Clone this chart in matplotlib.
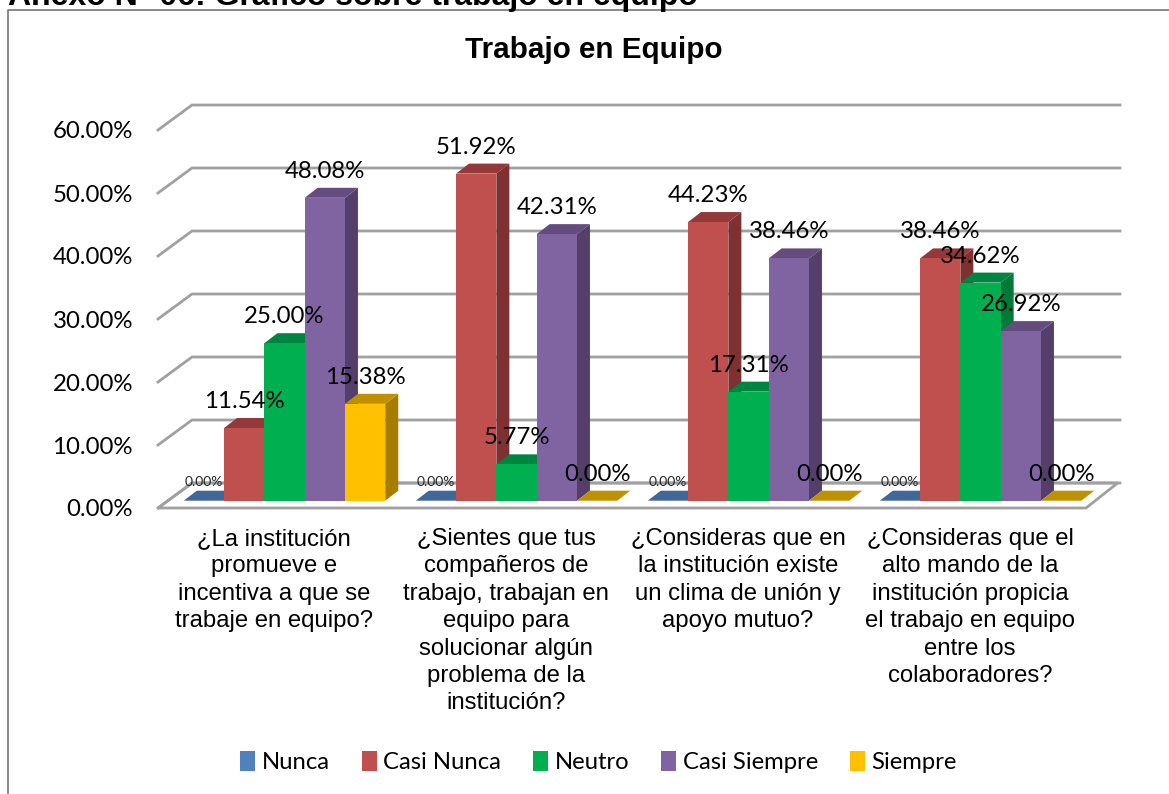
import matplotlib
matplotlib.use("Agg")
import matplotlib.pyplot as plt
from matplotlib.patches import Polygon, Patch

categories = [
    "¿La institución\npromueve e\nincentiva a que se\ntrabaje en equipo?",
    "¿Sientes que tus\ncompañeros de\ntrabajo, trabajan en\nequipo para\nsolucionar algún\nproblema de la\ninstitución?",
    "¿Consideras que en\nla institución existe\nun clima de unión y\napoyo mutuo?",
    "¿Consideras que el\nalto mando de la\ninstitución propicia\nel trabajo en equipo\nentre los\ncolaboradores?",
]
series_names = ["Nunca", "Casi Nunca", "Neutro", "Casi Siempre", "Siempre"]
nunca = [0.00, 0.00, 0.00, 0.00]
casi_nunca = [11.54, 51.92, 44.23, 38.46]
neutro = [25.00, 5.77, 17.31, 34.62]
casi_siempre = [48.08, 42.31, 38.46, 26.92]
siempre = [15.38, 0.00, 0.00, 0.00]
series = [nunca, casi_nunca, neutro, casi_siempre, siempre]
y_ticks = [0, 10, 20, 30, 40, 50, 60]

legend_colors = ["#4F81BD", "#C0504D", "#00B050", "#8064A2", "#FFC000"]
front_colors = ["#4F81BD", "#C0504D", "#00B050", "#8064A2", "#FFC000"]
side_colors = ["#2F4D71", "#7E3130", "#007A37", "#533F6A", "#A67D00"]
top_colors = ["#3F6797", "#93393A", "#008540", "#644D7E", "#BF9000"]

W, H = 1169, 794
fig = plt.figure(figsize=(W / 100, H / 100), dpi=100, facecolor="white")
L, R, B, T = 158, 1086, 508, 130
ax = fig.add_axes([L / W, 1 - B / H, (R - L) / W, (B - T) / H])
ax.set_xlim(-0.5, 3.5)
ax.set_ylim(0, 60)
ax.patch.set_visible(False)
for s in ax.spines.values():
    s.set_visible(False)

px_x = (R - L) / 4
px_y = (B - T) / 60
WALL_DX, WALL_DY = 34 / px_x, 25 / px_y
BAR_X0, BAR_Y0 = 10.5 / px_x, 7.3 / px_y
BAR_DX, BAR_DY = 13 / px_x, 10 / px_y
BW = 40.3 / px_x

GRID = "#A0A0A0"
ax.add_patch(Polygon([(-0.5, 0), (3.5, 0), (3.5 + WALL_DX - 0.01, WALL_DY),
                      (-0.5 + WALL_DX, WALL_DY)], closed=True, fc="white",
                     ec=GRID, lw=2.0, clip_on=False, zorder=1))
for v in y_ticks:
    ax.plot([-0.5, -0.5 + WALL_DX, 3.5 + WALL_DX], [v, v + WALL_DY, v + WALL_DY],
            color=GRID, lw=2.0, clip_on=False, zorder=1, solid_joinstyle="miter")

for g in range(len(categories)):
    for s, vals in enumerate(series):
        v = vals[g]
        x0 = g + BAR_X0 + (s - 2.5) * BW
        x1 = x0 + BW
        y0 = BAR_Y0
        y1 = y0 + v
        z = 3 + g * 10 + s
        if v > 0:
            ax.bar(x0, v, width=BW, bottom=y0, align="edge", color=front_colors[s],
                   zorder=z + 0.5, clip_on=False)
            ax.add_patch(Polygon([(x1, y0), (x1 + BAR_DX, y0 + BAR_DY),
                                  (x1 + BAR_DX, y1 + BAR_DY), (x1, y1)], closed=True,
                                 fc=side_colors[s], ec="none", zorder=z, clip_on=False))
        ax.add_patch(Polygon([(x0, y1), (x1, y1), (x1 + BAR_DX, y1 + BAR_DY),
                              (x0 + BAR_DX, y1 + BAR_DY)], closed=True,
                             fc=top_colors[s], ec="none", zorder=z, clip_on=False))

LABEL_FONT = "Lato"
for g in range(len(categories)):
    for s, vals in enumerate(series):
        v = vals[g]
        x = g + BAR_X0 + (s - 2) * BW
        y = BAR_Y0 + v
        small = s == 0
        ax.annotate(f"{v:.2f}%", (x, y), xytext=(0, (19 if small else 26.5) * 0.72),
                    textcoords="offset points", ha="center", va="center",
                    fontsize=10 if small else 17.3, family=LABEL_FONT,
                    color="#262626" if small else "black",
                    zorder=100, annotation_clip=False)

ax.set_yticks(y_ticks)
ax.set_yticklabels([f"{v:.2f}%" for v in y_ticks], family=LABEL_FONT, fontsize=17.3)
ax.set_xticks(range(4))
ax.set_xticklabels(categories, family="Liberation Sans", fontsize=17.2, linespacing=1.315, ha="center")
ax.tick_params(axis="y", length=0, pad=18)
ax.tick_params(axis="x", length=0, pad=14.5)

fig.text(594 / W, 1 - 50 / H, "Trabajo en Equipo", family="Liberation Sans", weight="bold",
         fontsize=21.3, ha="center", va="center")
fig.text(8 / W, 1 - 5 / H, "Anexo N° 06: Gráfico sobre trabajo en equipo", family="Liberation Sans",
         weight="bold", fontsize=23, ha="left", va="baseline")

fig.add_artist(plt.Line2D([7.5 / W, 7.5 / W, 1], [0, 1 - 9.5 / H, 1 - 9.5 / H], color="#808080", lw=1.3))

handles = [Patch(fc=c, ec="none") for c in legend_colors]
fig.legend(handles, series_names, loc="center", bbox_to_anchor=(598.5 / W, 1 - 762 / H), ncol=5, frameon=False,
           prop={"family": LABEL_FONT, "size": 17.2}, handlelength=0.63, handleheight=0.9,
           handletextpad=0.28, columnspacing=1.33, borderpad=0, borderaxespad=0)

fig.savefig("out.png", dpi=100, facecolor="white")
